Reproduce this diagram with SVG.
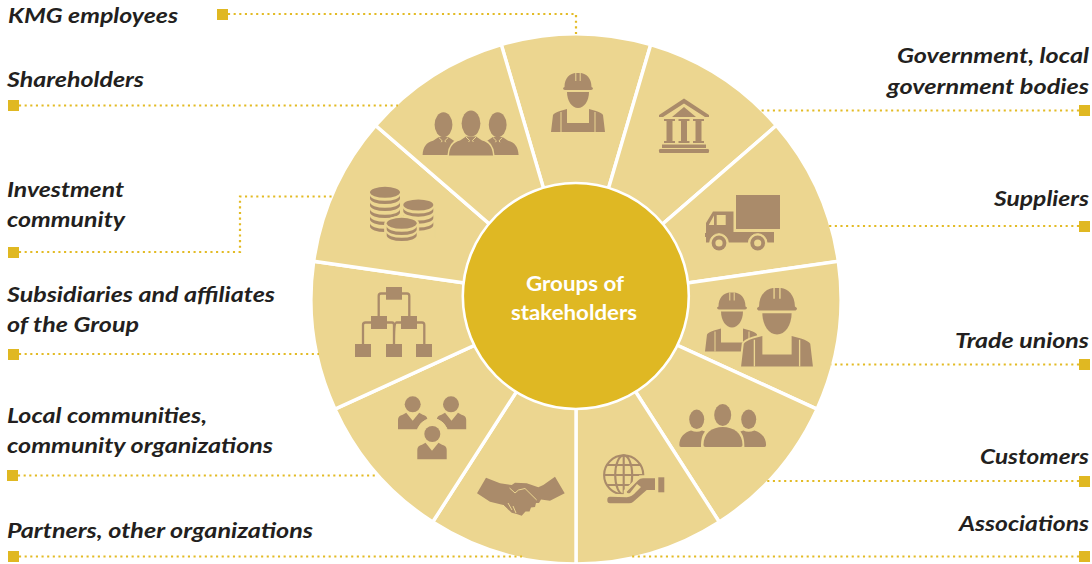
<svg xmlns="http://www.w3.org/2000/svg" xmlns:xlink="http://www.w3.org/1999/xlink" width="1092" height="564" viewBox="0 0 1092 564">
<style>
.wedge{fill:#ecd690;stroke:#fff;stroke-width:3.4;stroke-linejoin:miter}
.icon{fill:#aa8b6a}
.cut{fill:none;stroke:#ecd690;stroke-width:1}
.halo{fill:#ecd690;stroke:#ecd690}
.wire{fill:none;stroke:#aa8b6a;stroke-width:2.3}
.dot{fill:none;stroke:#e3bb25;stroke-width:2.2;stroke-dasharray:2.1 3.53}
.sq{fill:#e0b822}
.label{font-family:Lato,"Liberation Sans",sans-serif;font-weight:700;font-style:italic;font-size:21.3px;fill:#231f20}
.hub{font-family:Lato,"Liberation Sans",sans-serif;font-weight:700;font-size:20.5px;fill:#fff}
</style>
<defs>
<path id="worker-body" d="M-27,59 L-25,42 Q-24,40 -18,38 L-11,36 L-11,50 L11,50 L11,36 L18,38 Q24,40 25,42 L27,59 Z"/>
<g id="worker">
<path d="M-13.5,14 C-13.5,5 -8,.5 -3,0 L3,0 C8,.5 13.5,5 13.5,14 L15,15 Q15,17 13,17 L-13,17 Q-15,17 -15,15 Z"/>
<path d="M-11,19 L11,19 C11,28 6,35 0,35 C-6,35 -11,28 -11,19 Z"/>
<use href="#worker-body"/>
<path class="cut" d="M-2.2,0V8M2.2,0V8M-17,39V59M17,39V59"/>
</g>
<g id="suit">
<ellipse cx="0" cy="-13" rx="9.4" ry="13"/>
<path d="M-22,19 C-21.5,10 -18,6 -11,4 L-5,0 L5,0 L11,4 C18,6 21.5,10 22,19 Z"/>
<path class="cut" d="M-5,.5 L-1.4,4 L-2.4,5.5 M5,.5 L1.4,4 L2.4,5.5"/>
</g>
<path id="band" d="M-15,0A15,5.5 0 0 0 15,0v3.2A15,5.5 0 0 1-15,3.2Z"/>
<path id="member" d="M-14.7,16.6 V7 Q-14.7,3 -10,2 L-6.5,0 L0,8 L6.5,0 L10,2 Q14.7,3 14.7,7 V16.6 Z"/>
</defs>

<g id="kmg-employees">
<path class="wedge" d="M576,299 L501.3,44.7 A265,265 0 0 1 650.7,44.7 Z"/>
<use class="icon" href="#worker" transform="translate(578,73)"/>
<text class="label" x="8" y="23" textLength="170" lengthAdjust="spacingAndGlyphs">KMG employees</text>
</g>

<g id="government">
<path class="wedge" d="M576,299 L650.7,44.7 A265,265 0 0 1 776.3,125.5 Z"/>
<g class="icon">
<path d="M684,98.5 L709,115 V117 H705 L684,103.5 L663,117 H659 V115 Z"/>
<path d="M684,107 L696,117 H672 Z"/>
<path d="M664,119 H675 V121 H672.5 V141 H675 V143 H664 V141 H666.5 V121 H664 Z"/>
<path d="M678.5,119 H689.5 V121 H687 V141 H689.5 V143 H678.5 V141 H681 V121 H678.5 Z"/>
<path d="M693,119 H704 V121 H701.5 V141 H704 V143 H693 V141 H695.5 V121 H693 Z"/>
<rect x="662" y="144.5" width="44" height="3.5"/>
<rect x="659" y="149" width="50" height="4" rx="1.2"/>
</g>
<text class="label" x="897" y="63" textLength="192" lengthAdjust="spacingAndGlyphs">Government, local</text>
<text class="label" x="887" y="94" textLength="202" lengthAdjust="spacingAndGlyphs">government bodies</text>
</g>

<g id="suppliers">
<path class="wedge" d="M576,299 L776.3,125.5 A265,265 0 0 1 838.3,261.3 Z"/>
<g class="icon">
<rect x="736" y="195" width="44" height="34"/>
<path fill-rule="evenodd" d="M713,211.5 H733.5 V232 H774 V242.5 H706 V237 H705 V233 H706 V223 Z M716.7,215 V225 H725.7 V215 Z M714,215.5 L709,224.5 V225 H714 Z"/>
</g>
<circle class="halo" cx="719" cy="243" r="9.3"/>
<circle class="halo" cx="757.7" cy="243" r="9.3"/>
<g class="icon">
<circle cx="719" cy="243" r="7.4"/>
<circle cx="757.7" cy="243" r="7.4"/>
</g>
<circle cx="719" cy="243" r="3.6" fill="#ecd690"/>
<circle cx="757.7" cy="243" r="3.6" fill="#ecd690"/>
<text class="label" x="994" y="206" textLength="95" lengthAdjust="spacingAndGlyphs">Suppliers</text>
</g>

<g id="trade-unions">
<path class="wedge" d="M576,299 L838.3,261.3 A265,265 0 0 1 817,409.1 Z"/>
<use class="icon" href="#worker" transform="translate(732,292.5)"/>
<use class="halo" href="#worker-body" transform="translate(777,288) scale(1.33)" stroke-width="3"/>
<use class="icon" href="#worker" transform="translate(777,288) scale(1.33)"/>
<text class="label" x="955" y="348" textLength="134" lengthAdjust="spacingAndGlyphs">Trade unions</text>
</g>

<g id="customers">
<path class="wedge" d="M576,299 L817,409.1 A265,265 0 0 1 719.3,522 Z"/>
<g class="icon">
<ellipse cx="722.7" cy="415" rx="8.5" ry="11"/>
<ellipse cx="696.7" cy="419.3" rx="7.5" ry="9.7"/>
<ellipse cx="748.7" cy="419.3" rx="7.5" ry="9.7"/>
<path d="M703.5,445 C703.5,433 712,427 722.7,427 C733.5,427 742.5,433 742.5,445 Q742.5,447 740.5,447 L705.5,447 Q703.5,447 703.5,445 Z"/>
<path d="M681,447 Q679.3,447 679.3,445 C679.3,437 685,432 691,430.5 Q697,433 702,430.5 L705,431.5 C702,435 701,440 701,447 Z"/>
<path d="M764.4,447 Q766.1,447 766.1,445 C766.1,437 760.4,432 754.4,430.5 Q748.4,433 743.4,430.5 L740.4,431.5 C743.4,435 744.4,440 744.4,447 Z"/>
</g>
<text class="label" x="980" y="464" textLength="109" lengthAdjust="spacingAndGlyphs">Customers</text>
</g>

<g id="associations">
<path class="wedge" d="M576,299 L719.3,522 A265,265 0 0 1 576,564 Z"/>
<g class="icon">
<g fill="none" stroke="#aa8b6a" stroke-width="2.1">
<circle cx="623.7" cy="475" r="19.6"/>
<ellipse cx="623.7" cy="475" rx="8.5" ry="19.6"/>
<path d="M623.7,455.4V494.6M604.1,475H643.3M607,465H640.5M607,485H640.5"/>
</g>
</g>
<path class="halo" stroke-width="6" d="M626.7,491.7 L640.7,478.3 H655 V490 H646.7 L630.7,503.3 H610 Q607.3,503 607.3,499.5 Q607.3,496.7 610,496.7 L626.7,497.3 Z"/>
<g class="icon">
<path d="M626.7,491.7 L638,480.5 Q640,478.3 643,478.3 H655 V490 H646.7 L633,502 Q631.5,503.3 629,503.3 H610 Q607.3,503 607.3,499.9 Q607.3,496.7 610,496.7 L626.7,497.3 Q632,497 636,492 L641,487 L637,484 L630,493 Q627,494 626.7,491.7 Z"/>
<rect x="658.3" y="477.3" width="6" height="15"/>
</g>
<text class="label" x="959" y="531" textLength="130" lengthAdjust="spacingAndGlyphs">Associations</text>
</g>

<g id="partners">
<path class="wedge" d="M576,299 L576,564 A265,265 0 0 1 432.7,522 Z"/>
<path class="icon" d="M486,477.7 L500,483.3 L511.7,485 L515,482.7 L526.7,483.3 L538.3,487.3 L543.3,485 L555,476.7 L564.7,493.3 L550,500.7 L541,499.5 L539,503 L536,503 L535,507 L531,507.5 L529.5,511.5 L525.5,511.5 L521.7,515.7 L516.7,514 L511.7,512.7 L503.3,505 L490,501.7 L477,493.3 Z"/>
<path class="cut" stroke-width="1.3" d="M509.5,488 L515,493 L518.5,490 L525,488.5 L536.7,500 M503,505 L507,509 M508,503 L512,510 M513,506 L516,513"/>
<text class="label" x="7" y="538" textLength="306" lengthAdjust="spacingAndGlyphs">Partners, other organizations</text>
</g>

<g id="local-communities">
<path class="wedge" d="M576,299 L432.7,522 A265,265 0 0 1 335,409.1 Z"/>
<g class="icon">
<circle cx="412.7" cy="404.3" r="8"/>
<use href="#member" x="412.7" y="412.7"/>
<circle cx="451" cy="404.3" r="8"/>
<use href="#member" x="451.5" y="412.7"/>
</g>
<circle class="halo" cx="432.3" cy="434" r="15.5"/>
<g class="icon">
<circle cx="432.3" cy="434" r="8"/>
<use href="#member" x="432" y="442.7"/>
</g>
<text class="label" x="7" y="423" textLength="200" lengthAdjust="spacingAndGlyphs">Local communities,</text>
<text class="label" x="7" y="453" textLength="266" lengthAdjust="spacingAndGlyphs">community organizations</text>
</g>

<g id="subsidiaries">
<path class="wedge" d="M576,299 L335,409.1 A265,265 0 0 1 313.7,261.3 Z"/>
<path class="wire" d="M386,293.5 H381 Q378.7,293.5 378.7,296 V316 M402,293.5 H407 Q409.3,293.5 409.3,296 V316 M371,322.5 H365.5 Q363,322.5 363,325 V344 M387,322.5 H392 Q394,322.5 394,325 V344 Q394,322.5 396.5,322.5 H401 M417,322.5 H422 Q424.3,322.5 424.3,325 V344"/>
<g class="icon">
<rect x="386" y="287" width="16" height="12.7"/>
<rect x="371" y="316" width="16" height="13"/>
<rect x="401" y="316" width="16" height="13"/>
<rect x="355" y="344" width="16" height="13"/>
<rect x="386" y="344" width="16" height="13"/>
<rect x="416" y="344" width="16" height="13"/>
</g>
<text class="label" x="7" y="302" textLength="268" lengthAdjust="spacingAndGlyphs">Subsidiaries and affiliates</text>
<text class="label" x="7" y="332" textLength="132" lengthAdjust="spacingAndGlyphs">of the Group</text>
</g>

<g id="investment-community">
<path class="wedge" d="M576,299 L313.7,261.3 A265,265 0 0 1 375.7,125.5 Z"/>
<g class="icon" transform="translate(385,192.3)">
<ellipse rx="15" ry="5.5"/>
<use href="#band" y="3"/><use href="#band" y="10"/><use href="#band" y="17"/><use href="#band" y="24"/><use href="#band" y="31"/>
</g>
<g transform="translate(418.3,205)">
<rect class="halo" x="-17" y="-4" width="34" height="36"/>
<g class="icon">
<ellipse rx="15" ry="5.5"/>
<use href="#band" y="3"/><use href="#band" y="10"/><use href="#band" y="17"/>
</g>
</g>
<g transform="translate(401.7,223.3)">
<path class="halo" d="M-17,0 A17,7 0 0 1 17,0 V11 A17,8 0 0 1 -17,11 Z"/>
<g class="icon">
<ellipse rx="15" ry="5.5"/>
<use href="#band" y="3"/><use href="#band" y="9"/>
</g>
</g>
<text class="label" x="7" y="197" textLength="117" lengthAdjust="spacingAndGlyphs">Investment</text>
<text class="label" x="7" y="227" textLength="118" lengthAdjust="spacingAndGlyphs">community</text>
</g>

<g id="shareholders">
<path class="wedge" d="M576,299 L375.7,125.5 A265,265 0 0 1 501.3,44.7 Z"/>
<use class="icon" href="#suit" transform="translate(443.5,137) scale(.95)"/>
<use class="icon" href="#suit" transform="translate(497.7,137) scale(.95)"/>
<path class="halo" stroke-width="3" d="M449,155 C449.5,146 453,142 460,140 L466,136.5 L476,136.5 L482,140 C489,142 492.5,146 493,155 Z"/>
<use class="icon" href="#suit" transform="translate(471,136.5)"/>
<text class="label" x="7" y="87" textLength="137" lengthAdjust="spacingAndGlyphs">Shareholders</text>
</g>

<g id="hub">
<circle cx="575.8" cy="296" r="113" fill="#dfb823" stroke="#fff" stroke-width="2.6"/>
<text class="hub" x="526" y="291" textLength="98" lengthAdjust="spacingAndGlyphs">Groups of</text>
<text class="hub" x="511" y="320" textLength="126" lengthAdjust="spacingAndGlyphs">stakeholders</text>
</g>

<g id="connectors">
<path class="dot" d="M228,14 H576 V36"/>
<path class="dot" d="M19,105.5 H398"/>
<path class="dot" d="M19,252 H240 V196.5 H334"/>
<path class="dot" d="M19,354 H319"/>
<path class="dot" d="M18,475.5 H378"/>
<path class="dot" d="M19,556.5 H522"/>
<path class="dot" d="M1079,110.5 H759"/>
<path class="dot" d="M1079,226 H829"/>
<path class="dot" d="M1079,364.5 H831"/>
<path class="dot" d="M1079,481 H766"/>
<path class="dot" d="M1079,556.5 H630"/>
<rect class="sq" x="217" y="9" width="11" height="11"/>
<rect class="sq" x="8" y="100" width="11" height="11"/>
<rect class="sq" x="8" y="247" width="11" height="11"/>
<rect class="sq" x="8" y="349" width="11" height="11"/>
<rect class="sq" x="7" y="470" width="11" height="11"/>
<rect class="sq" x="8" y="551" width="11" height="11"/>
<rect class="sq" x="1079" y="105" width="11" height="11"/>
<rect class="sq" x="1079" y="221" width="11" height="11"/>
<rect class="sq" x="1079" y="359" width="11" height="11"/>
<rect class="sq" x="1079" y="476" width="11" height="11"/>
<rect class="sq" x="1079" y="551" width="11" height="11"/>
</g>
</svg>
